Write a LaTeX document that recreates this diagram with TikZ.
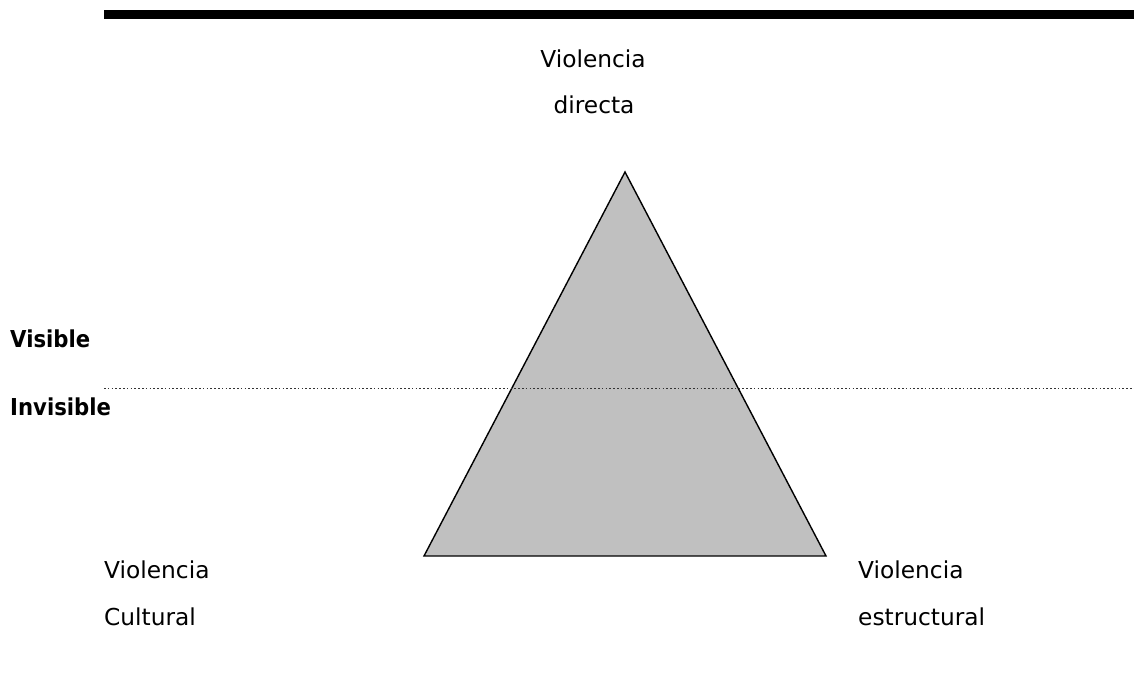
\documentclass[tikz,border=0pt]{standalone}
\usepackage{fontspec}
\setmainfont{DejaVu Sans}
\definecolor{trigray}{RGB}{192,192,192}
\begin{document}
\begin{tikzpicture}[x=1pt,y=-1pt,
  lbl/.style={inner sep=0pt, anchor=base, font=\fontsize{23.3}{28}\selectfont},
  lbll/.style={lbl, anchor=base west},
  blbl/.style={inner sep=0pt, anchor=base west, font=\fontsize{23.3}{28}\selectfont\bfseries},
  dotline/.style={line width=1.3pt, black!80, dash pattern=on 1.5pt off 2.3pt}]
\useasboundingbox (0,0) rectangle (1134,675);
\fill[black] (104,10) rectangle (1134,19);
\coordinate (apex) at (625,172);
\coordinate (bl) at (424,556);
\coordinate (br) at (826,556);
\draw[fill=trigray, line width=1.4pt, line join=miter] (apex) -- (bl) -- (br) -- cycle;
\coordinate (dl) at (104,388.5);
\coordinate (dr) at (1134,388.5);
\draw[dotline] (dl) -- (dr);
\node[lbl] (t1) at (593,67) {Violencia};
\node[lbl] (t2) at (594,113) {directa};
\node[blbl] (vis) at (10,347) {\scalebox{0.91}[1]{Visible}};
\node[blbl] (invis) at (10,415) {\scalebox{0.91}[1]{Invisible}};
\node[lbll] (l1) at (104,578) {Violencia};
\node[lbll] (l2) at (104,625) {Cultural};
\node[lbll] (r1) at (858,578) {Violencia};
\node[lbll] (r2) at (858,625) {estructural};
\end{tikzpicture}
\end{document}
